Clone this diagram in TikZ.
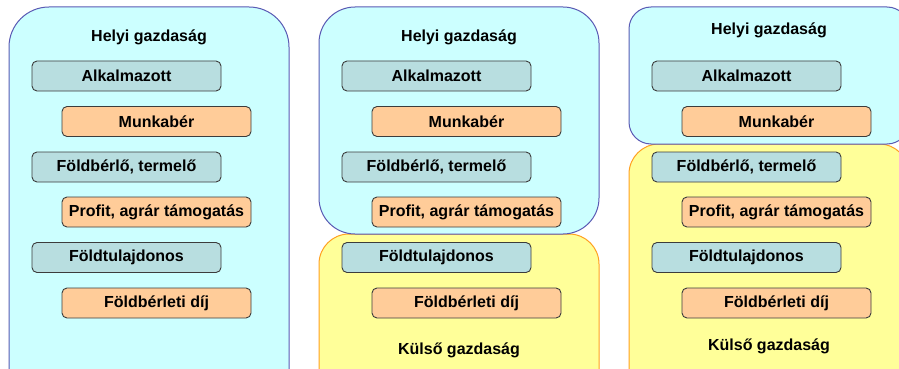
\documentclass[tikz,border=0pt]{standalone}
\usepackage{fontspec}
\setmainfont{Liberation Sans}
\definecolor{localfill}{HTML}{CCFFFF}
\definecolor{localdraw}{HTML}{5A5AB4}
\definecolor{extfill}{HTML}{FFFF99}
\definecolor{extdraw}{HTML}{FFA020}
\definecolor{tealfill}{HTML}{B8DEE0}
\definecolor{orangefill}{HTML}{FFCC99}
\definecolor{boxdraw}{HTML}{3C3C3C}
\begin{document}
\begin{tikzpicture}[x=1pt,y=-1pt,
  every node/.style={font=\fontsize{16}{18}\selectfont\bfseries},
  actor/.style={draw=boxdraw, line width=0.9pt, fill=tealfill, rounded corners=5pt, minimum width=189pt, minimum height=30pt, inner sep=0pt},
  flow/.style={draw=boxdraw, line width=0.9pt, fill=orangefill, rounded corners=5pt, minimum width=189pt, minimum height=30pt, inner sep=0pt},
  local/.style={draw=localdraw, line width=1pt, fill=localfill},
  ext/.style={draw=extdraw, line width=1pt, fill=extfill},
  title/.style={inner sep=0pt}]
\useasboundingbox (0,0) rectangle (899,369);
\fill[white] (0,0) rectangle (899,369);
% Panel 1
\draw[local, rounded corners=40pt] (9,7) rectangle (289,420);
\node[title] (t1) at (149,37) {Helyi gazdaság};
% Panel 2
\draw[ext, rounded corners=30pt] (319,234) rectangle (599,430);
\draw[local, rounded corners=36pt] (319,7) rectangle (599,234);
\node[title] (t2) at (459,37) {Helyi gazdaság};
\node[title] (k2) at (459,350) {Külső gazdaság};
% Panel 3
\draw[ext, rounded corners=30pt] (629,144) rectangle (909,440);
\draw[local, rounded corners=22pt] (629,7) rectangle (909,144);
\node[title] (t3) at (769,30) {Helyi gazdaság};
\node[title] (k3) at (769,346) {Külső gazdaság};
% Boxes
\foreach \dx/\p in {0/a,310/b,620/c} {
  \node[actor] (\p1) at (126.5+\dx,76) {Alkalmazott};
  \node[flow]  (\p2) at (156.5+\dx,121.5) {Munkabér};
  \node[actor] (\p3) at (126.5+\dx,167) {Földbérlő, termelő};
  \node[flow]  (\p4) at (156.5+\dx,212) {Profit, agrár támogatás};
  \node[actor] (\p5) at (126.5+\dx,257.5) {Földtulajdonos};
  \node[flow]  (\p6) at (156.5+\dx,303) {Földbérleti díj};
}
\end{tikzpicture}
\end{document}
